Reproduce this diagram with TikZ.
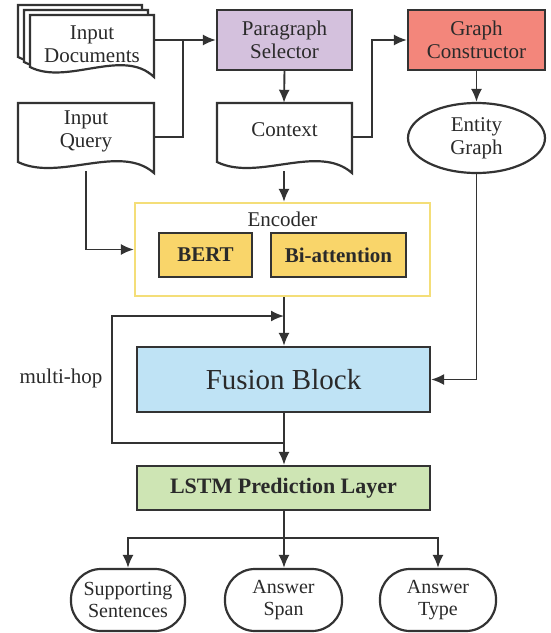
\documentclass[tikz,border=0pt]{standalone}
\usepackage{fontspec}
\setmainfont{Liberation Serif}
\usetikzlibrary{arrows.meta,positioning,shapes.geometric}
\definecolor{bord}{HTML}{333333}
\definecolor{parafill}{HTML}{D4C1DD}
\definecolor{gcfill}{HTML}{F3867B}
\definecolor{bertfill}{HTML}{F9D56A}
\definecolor{encbord}{HTML}{F4DE78}
\definecolor{fusfill}{HTML}{BFE3F5}
\definecolor{lstmfill}{HTML}{CEE5B4}
\definecolor{txtc}{HTML}{2A2A2A}
\pgfdeclarelayer{bg}
\pgfsetlayers{bg,main}
\tikzset{
  txt/.style={font=\fontsize{21}{23}\selectfont, align=center, text=txtc},
  frame/.style={inner sep=0pt, minimum width=#1},
  box/.style={draw=bord, line width=2.2pt, inner sep=0pt, txt},
  docst/.style={draw=bord, line width=2.2pt, fill=white},
  docpath/.style n args={5}{insert path={(#1,#2) -- (#3,#2) -- (#3,#5) .. controls ({#3-0.25*(#3-#1)},{#5-30}) and ({#1+0.3*(#3-#1)},{#5+9}) .. (#1,#4) -- cycle}},
  conn/.style={draw=bord, line width=1.9pt},
  arr/.style={conn, -{Latex[length=13pt,width=11pt]}},
  outbox/.style={box, rounded corners=30pt, minimum width=#1, minimum height=62pt, font=\fontsize{20}{22}\selectfont}
}
\begin{document}
\begin{tikzpicture}[x=1pt,y=-1pt]
\useasboundingbox (0,0) rectangle (550,633);
% document shapes
\draw[docst, docpath={18}{5}{142}{57}{67}];
\draw[docst, docpath={24}{10}{148}{62}{72}];
\draw[docst, docpath={30}{15}{154}{67}{77}];
\draw[docst, docpath={18}{103}{154}{162}{173}];
\draw[docst, docpath={217}{103}{352}{162}{173}];
% anchor frames and texts
\node[frame=124, minimum height=50] (docs) at (92,40) {};
\node[txt] (docsT) at (92,44) {Input\\Documents};
\node[frame=136, minimum height=68] (query) at (86,137) {};
\node[txt] (queryT) at (86,131) {Input\\Query};
\node[frame=135, minimum height=68] (ctx) at (284,137) {};
\node[txt] (ctxT) at (284.5,130) {Context};
% boxes
\node[box, fill=parafill, minimum width=135, minimum height=60] (para) at (284.5,40) {Paragraph\\Selector};
\node[box, fill=gcfill, minimum width=137, minimum height=60] (gc) at (476.5,40) {Graph\\Constructor};
\node[box, ellipse, minimum width=137, minimum height=70] (ent) at (476.5,138) {Entity\\Graph};
\node[draw=encbord, line width=2.2pt, fill=white, minimum width=295, minimum height=93, inner sep=0pt] (enc) at (282.5,249.5) {};
\node[txt] (encT) at (282.5,219) {Encoder};
\node[box, fill=bertfill, minimum width=93, minimum height=44, font=\fontsize{21}{23}\selectfont\bfseries] (bert) at (205.5,255) {BERT};
\node[box, fill=bertfill, minimum width=135, minimum height=44, font=\fontsize{21}{23}\selectfont\bfseries] (biatt) at (338.5,255) {Bi-attention};
\node[box, fill=fusfill, minimum width=293, minimum height=65, font=\fontsize{29}{30}\selectfont] (fus) at (283.5,379.5) {Fusion Block};
\node[box, fill=lstmfill, minimum width=293, minimum height=44, font=\fontsize{22}{24}\selectfont\bfseries] (lstm) at (283.5,488) {LSTM Prediction Layer};
\node[outbox=114] (sup) at (128,600) {Supporting\\Sentences};
\node[outbox=117] (span) at (283.5,600) {Answer\\Span};
\node[outbox=116] (type) at (438,600) {Answer\\Type};
\node[txt] (hop) at (61,378) {multi-hop};
% coordinates
\coordinate (jn) at (183,40);
\coordinate (lt) at (284,316);
\coordinate (lb) at (284,443);
\coordinate (br) at (284,538);
% connectors
\begin{pgfonlayer}{bg}
\draw[arr] (docs.east) -- (para.west);
\draw[conn] (query.east) -| (jn);
\draw[arr] (para.south) -- (ctx.north);
\draw[arr] (ctx.east) -- ++(20,0) |- (gc.west);
\draw[arr] (gc.south) -- (ent.north);
\draw[arr] (ctx.south) -- (ctx.south |- enc.north);
\draw[arr] (query.south) |- (enc.west);
\draw[arr] (enc.south -| lt) -- (lt |- fus.north);
\draw[arr] (lb) -- ++(-172,0) |- (lt);
\draw[arr] (ent.south) |- (fus.east);
\draw[arr] (lb |- fus.south) -- (lb |- lstm.north);
\draw[arr] (lb |- lstm.south) -- (lb |- span.north);
\draw[arr] (br) -| (sup.north);
\draw[arr] (br) -| (type.north);
\end{pgfonlayer}
\end{tikzpicture}
\end{document}
